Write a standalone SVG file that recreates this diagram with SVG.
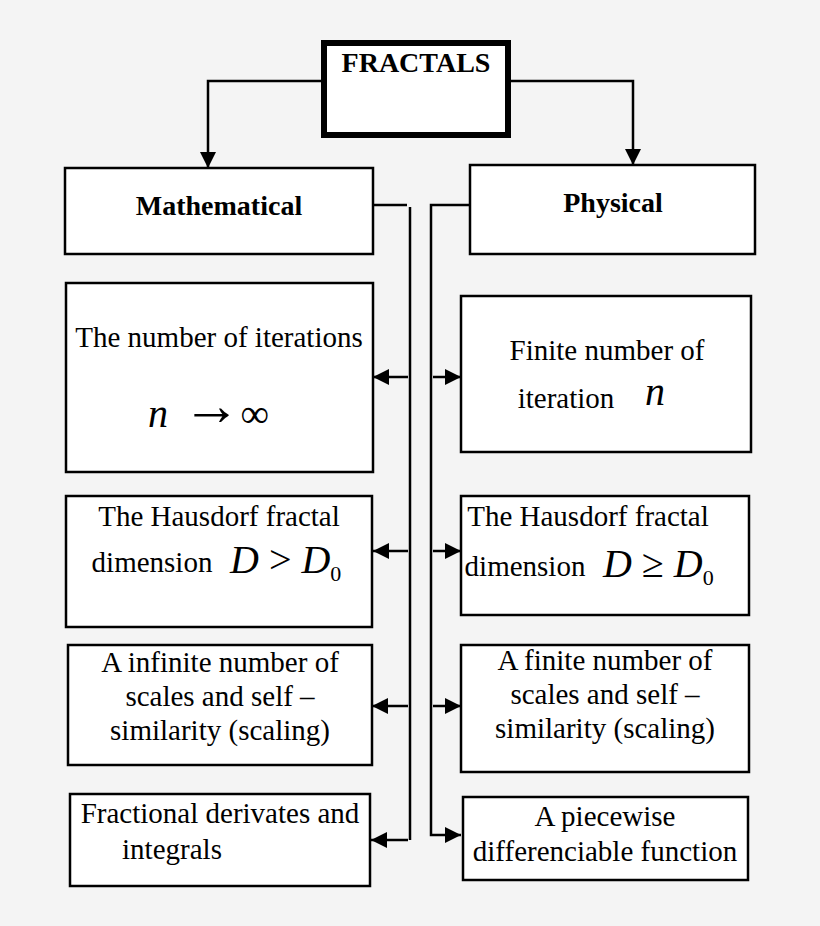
<svg xmlns="http://www.w3.org/2000/svg" width="820" height="926" viewBox="0 0 820 926">
<style>
text{font-family:"Liberation Serif","Times New Roman",Times,serif;fill:#000}
.b{fill:#fff;stroke:#000;stroke-width:2.5}
.t{font-size:29px;text-anchor:middle}
.h{font-weight:bold;font-size:28px}
.m{font-style:italic;font-size:40px}
.c{fill:none;stroke:#000;stroke-width:2.5}
</style>
<defs><marker id="ar" viewBox="0 0 10 10" refX="10" refY="5" markerWidth="16" markerHeight="16" markerUnits="userSpaceOnUse" orient="auto"><path d="M0,0L10,5L0,10z"/></marker></defs>
<rect width="820" height="926" fill="#f4f4f4"/>
<g id="connectors" class="c">
<path d="M324,81H208V168" marker-end="url(#ar)"/>
<path d="M508,81H633V165" marker-end="url(#ar)"/>
<path d="M373,205H407M410,207V840"/>
<path d="M470,205H431V835H461" marker-end="url(#ar)"/>
<path d="M408,377H373" marker-end="url(#ar)"/>
<path d="M408,551H373" marker-end="url(#ar)"/>
<path d="M408,706H372" marker-end="url(#ar)"/>
<path d="M408,840H371" marker-end="url(#ar)"/>
<path d="M433,377H461" marker-end="url(#ar)"/>
<path d="M433,551H461" marker-end="url(#ar)"/>
<path d="M433,706H461" marker-end="url(#ar)"/>
</g>
<g id="fractals"><rect x="324" y="43" width="184" height="92" fill="#fff" stroke="#000" stroke-width="6"/><text class="t h" x="416" y="72">FRACTALS</text></g>
<g id="math"><rect class="b" x="65" y="168" width="308" height="86"/><text class="t h" x="219" y="215">Mathematical</text></g>
<g id="phys"><rect class="b" x="470" y="165" width="285" height="89"/><text class="t h" x="613" y="212">Physical</text></g>
<g id="m1"><rect class="b" x="66" y="283" width="307" height="189"/><text class="t" x="219" y="347">The number of iterations</text><text class="m" x="148" y="427">n<tspan font-style="normal" font-size="58" dy="-2"> →</tspan><tspan font-style="normal" dy="2">∞</tspan></text></g>
<g id="m2"><rect class="b" x="66" y="496" width="306" height="131"/><text class="t" x="219" y="526">The Hausdorf fractal</text><text class="t" x="152" y="572">dimension</text><text class="m" x="230" y="573" font-size="34">D<tspan font-style="normal"> &gt; </tspan>D<tspan font-style="normal" font-size="22" dy="8">0</tspan></text></g>
<g id="m3"><rect class="b" x="68" y="645" width="304" height="120"/><text class="t" x="220" y="672">A infinite number of</text><text class="t" x="220" y="706">scales and self –</text><text class="t" x="220" y="740">similarity (scaling)</text></g>
<g id="m4"><rect class="b" x="70" y="794" width="300" height="92"/><text class="t" x="220" y="823">Fractional derivates and</text><text class="t" x="172" y="859">integrals</text></g>
<g id="p1"><rect class="b" x="461" y="296" width="290" height="156"/><text class="t" x="607" y="360">Finite number of</text><text class="t" x="566" y="408">iteration</text><text class="m" x="645" y="405">n</text></g>
<g id="p2"><rect class="b" x="461" y="496" width="288" height="119"/><text class="t" x="588" y="526">The Hausdorf fractal</text><text class="t" x="525" y="576">dimension</text><text class="m" x="603" y="577" font-size="34">D<tspan font-style="normal"> ≥ </tspan>D<tspan font-style="normal" font-size="22" dy="8">0</tspan></text></g>
<g id="p3"><rect class="b" x="461" y="645" width="288" height="127"/><text class="t" x="605" y="670">A finite number of</text><text class="t" x="605" y="704">scales and self –</text><text class="t" x="605" y="738">similarity (scaling)</text></g>
<g id="p4"><rect class="b" x="463" y="797" width="285" height="83"/><text class="t" x="605" y="826">A piecewise</text><text class="t" x="605" y="861">differenciable function</text></g>
</svg>
